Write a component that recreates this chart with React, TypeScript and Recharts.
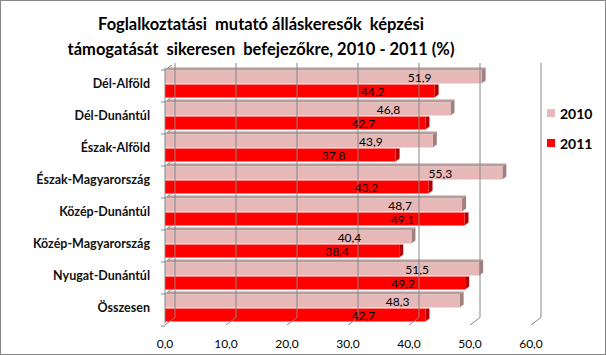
import React from 'react';
import { BarChart, Bar, XAxis, YAxis, ReferenceLine, LabelList } from 'recharts';

const categories = ['Dél-Alföld', 'Dél-Dunántúl', 'Észak-Alföld', 'Észak-Magyarország', 'Közép-Dunántúl', 'Közép-Magyarország', 'Nyugat-Dunántúl', 'Összesen'];
const values2010 = [51.9, 46.8, 43.9, 55.3, 48.7, 40.4, 51.5, 48.3];
const values2011 = [44.2, 42.7, 37.8, 43.2, 49.1, 38.4, 49.2, 42.7];
const seriesNames = ['2010', '2011'];
const xTicks = [0, 10, 20, 30, 40, 50, 60];
const titleLines = ['Foglalkoztatási  mutató álláskeresők  képzési', 'támogatását  sikeresen  befejezőkre, 2010 - 2011 (%)'];

const data = categories.map((name, i) => ({ name, v2010: values2010[i], v2011: values2011[i] }));

const FONT = 'Lato, "Open Sans", sans-serif';
const GRID = '#868686';
const PINK = '#E6B9B8';
const PINK_TOP = '#B99B9A';
const PINK_SIDE = '#A07F7E';
const RED = '#FF0000';
const RED_SIDE = '#B00000';
const DX = 10;
const BDX = 4;
const BDY = 3;
const MARGIN = { top: 67.5, right: 75, bottom: 6.5, left: 5 };
const CHART_H = 355;
const X_AXIS_H = 25;
const PLOT_H = CHART_H - MARGIN.top - MARGIN.bottom - X_AXIS_H;
const BAND = PLOT_H / categories.length;

const fmt = (v: number) => v.toFixed(1).replace('.', ',');

const PinkShape = (p: any) => {
  const { x, y, width: w, height: h } = p;
  if (w <= 0) return null;
  return (
    <g>
      <polygon points={`${x},${y} ${x + BDX},${y - BDY} ${x + w + BDX},${y - BDY} ${x + w},${y}`} fill={PINK_TOP} />
      <polygon points={`${x + w},${y} ${x + w + BDX},${y - BDY} ${x + w + BDX},${y + h - BDY} ${x + w},${y + h}`} fill={PINK_SIDE} />
      <rect x={x} y={y} width={w} height={h} fill={PINK} />
    </g>
  );
};

const RedShape = (p: any) => {
  const { x, y, width: w, height: h } = p;
  if (w <= 0) return null;
  return (
    <g>
      <polygon points={`${x + w},${y} ${x + w + BDX},${y} ${x + w + BDX},${y + h - BDY} ${x + w},${y + h}`} fill={RED_SIDE} />
      <rect x={x} y={y} width={w} height={h} fill={RED} />
    </g>
  );
};

const BackWall = (p: any) => {
  const x = p.x1;
  const yt = Math.min(p.y1, p.y2);
  const yb = Math.max(p.y1, p.y2);
  return (
    <g>
      <line x1={x + DX} y1={yt - 4.5} x2={x + DX} y2={yb - 6} stroke={GRID} strokeWidth={1} />
      <line x1={x} y1={yb + 1.5} x2={x + DX} y2={yb - 6} stroke={GRID} strokeWidth={1} />
    </g>
  );
};

const XTick = (p: any) => {
  const { x, y, payload } = p;
  return (
    <text x={x} y={y + 24} textAnchor="middle" fontFamily={FONT} fontSize={12} fill="#000">
      {fmt(payload.value)}
    </text>
  );
};

const YTick = (p: any) => {
  const { x, y, payload, index } = p;
  const yb = y - BAND / 2 + 2.5;
  const last = index === categories.length - 1;
  return (
    <g>
      <text x={x - 15} y={y + 4} textAnchor="end" fontFamily={FONT} fontSize={12.5} fontWeight={700} fill="#111">
        {payload.value}
      </text>
      <line x1={x - 4} y1={yb} x2={x} y2={yb} stroke={GRID} />
      <line x1={x} y1={yb} x2={x + 7} y2={yb - 5} stroke={GRID} />
      {last ? <line x1={x - 4} y1={yb + BAND} x2={x} y2={yb + BAND} stroke={GRID} /> : null}
    </g>
  );
};

const ValueLabel = (p: any) => {
  const { x, y, width, height, value } = p;
  return (
    <text x={x + width - 62} y={y + height / 2 + 4.5} textAnchor="middle" fontFamily={FONT} fontSize={12} fill="#000">
      {fmt(Number(value))}
    </text>
  );
};

export default function App() {
  return (
    <div style={{ position: 'absolute', left: 0, top: 0, width: 606, height: 355, background: '#fff' }}>
      <div style={{ position: 'absolute', left: 0, top: 12, width: 522, textAlign: 'center', fontFamily: FONT, fontWeight: 700, fontSize: 16.5, lineHeight: '25px', color: '#000', whiteSpace: 'pre' }}>
        {titleLines.map((t) => (
          <div key={t}>{t}</div>
        ))}
      </div>
      <div style={{ position: 'absolute', left: 0, top: 0 }}>
        <BarChart layout="vertical" width={606} height={CHART_H} data={data} margin={MARGIN} barSize={13} barGap={1}>
          <XAxis type="number" domain={[0, 60]} ticks={xTicks} interval={0} axisLine={false} tickLine={false} tickSize={0} tickMargin={0} height={X_AXIS_H} tick={<XTick />} />
          <YAxis type="category" dataKey="name" width={160} axisLine={{ stroke: GRID }} tickLine={false} tickSize={0} tickMargin={0} interval={0} tick={<YTick />} />
          {xTicks.map((t) => (
            <ReferenceLine key={t} x={t} shape={<BackWall />} />
          ))}
          <Bar dataKey="v2010" name={seriesNames[0]} fill={PINK} shape={<PinkShape />} isAnimationActive={false}>
            <LabelList dataKey="v2010" content={<ValueLabel />} />
          </Bar>
          <Bar dataKey="v2011" name={seriesNames[1]} fill={RED} shape={<RedShape />} isAnimationActive={false}>
            <LabelList dataKey="v2011" content={<ValueLabel />} />
          </Bar>
        </BarChart>
      </div>
      <div style={{ position: 'absolute', left: 547, top: 98, fontFamily: FONT, fontWeight: 700, fontSize: 14, color: '#000' }}>
        {seriesNames.map((n, i) => (
          <div key={n} style={{ display: 'flex', alignItems: 'center', height: 30 }}>
            <span style={{ display: 'inline-block', width: 8, height: 8, background: i === 0 ? PINK : RED, marginRight: 5 }} />
            <span>{n}</span>
          </div>
        ))}
      </div>
      <div style={{ position: 'absolute', left: 0, top: 0, width: 606, height: 355, boxSizing: 'border-box', border: '1px solid #868686', pointerEvents: 'none' }} />
    </div>
  );
}
